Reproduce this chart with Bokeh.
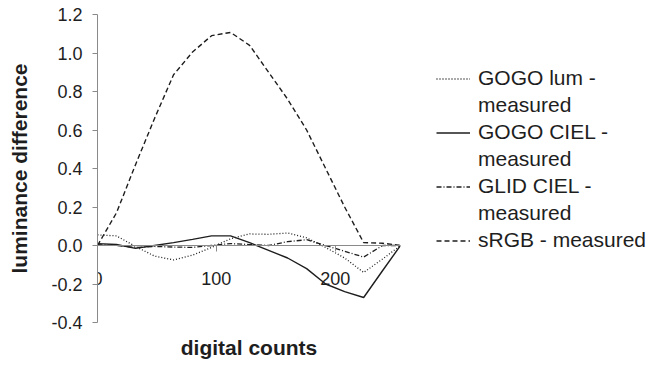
from bokeh.plotting import figure
from bokeh.models import (Range1d, LinearAxis, FixedTicker, Legend, LegendItem,
                          Title, NumeralTickFormatter)
from bokeh.embed import file_html
from bokeh.resources import INLINE

# ---- data ----
counts = [0, 16, 32, 48, 64, 80, 96, 112, 128, 144, 160, 176, 192, 208, 224, 240, 255]
gogo_lum = [0.055, 0.05, -0.005, -0.055, -0.075, -0.05, -0.01, 0.035, 0.06, 0.058,
            0.065, 0.04, -0.01, -0.065, -0.14, -0.07, 0.0]
gogo_ciel = [0.01, 0.005, -0.015, 0.0, 0.015, 0.032, 0.05, 0.05, 0.015, -0.025,
             -0.065, -0.12, -0.20, -0.24, -0.27, -0.13, 0.0]
glid_ciel = [0.005, 0.0, -0.01, -0.005, -0.008, -0.01, 0.0, 0.01, 0.005, 0.0,
             0.02, 0.03, 0.0, -0.03, -0.06, 0.0, 0.0]
srgb = [0.0, 0.17, 0.42, 0.66, 0.887, 1.005, 1.09, 1.107, 1.04, 0.90,
        0.76, 0.60, 0.40, 0.20, 0.015, 0.012, 0.0]

y_ticks = [-0.4, -0.2, 0.0, 0.2, 0.4, 0.6, 0.8, 1.0, 1.2]
x_ticks = [0, 100, 200]
legend_labels = ["GOGO lum -", "GOGO CIEL -", "GLID CIEL -", "sRGB - measured"]
second_line = "measured"

FONT = "Liberation Sans"
INK = "#1e1e1e"
AXIS = "#8a8a8a"

p = figure(frame_width=303, frame_height=308, output_backend="svg",
           toolbar_location=None,
           x_range=Range1d(0, 255), y_range=Range1d(-0.4, 1.2),
           x_axis_location=None, y_axis_location=None,
           min_border_left=97, min_border_right=250, min_border_top=14,
           min_border_bottom=45)
p.outline_line_color = None
p.xgrid.visible = False
p.ygrid.visible = False
p.background_fill_color = "white"

# y axis
yax = LinearAxis(ticker=FixedTicker(ticks=y_ticks),
                 formatter=NumeralTickFormatter(format="0.0"),
                 axis_label="luminance difference")
yax.axis_line_color = AXIS
yax.major_tick_line_color = AXIS
yax.major_tick_out = 5
yax.major_tick_in = 0
yax.minor_tick_line_color = None
yax.major_label_text_font = FONT
yax.major_label_text_font_size = "18px"
yax.major_label_text_color = INK
yax.major_label_standoff = 10
yax.axis_label_text_font = FONT
yax.axis_label_text_font_size = "21px"
yax.axis_label_text_font_style = "bold"
yax.axis_label_text_color = INK
yax.axis_label_standoff = 17
p.add_layout(yax, "left")

# x axis crossing at y = 0
xax = LinearAxis(ticker=FixedTicker(ticks=x_ticks), fixed_location=0)
xax.axis_line_color = AXIS
xax.major_tick_line_color = AXIS
xax.major_tick_out = 6
xax.major_tick_in = 0
xax.minor_tick_line_color = None
xax.major_label_text_font = FONT
xax.major_label_text_font_size = "18px"
xax.major_label_text_color = INK
xax.major_label_standoff = 20
p.add_layout(xax, "below")

p.add_layout(Title(text="digital counts", align="center", text_font=FONT,
                   text_font_size="21px", text_font_style="bold",
                   text_color=INK, offset=0, standoff=23), "below")

r_lum = p.line(counts, gogo_lum, line_color=INK, line_width=1.3, line_dash="1 2")
r_ciel = p.line(counts, gogo_ciel, line_color=INK, line_width=1.4)
r_glid = p.line(counts, glid_ciel, line_color=INK, line_width=1.3, line_dash="5 2 1 2")
r_srgb = p.line(counts, srgb, line_color=INK, line_width=1.4, line_dash="5 3")
r_blank = p.line([], [], line_alpha=0)

items = [
    LegendItem(label=legend_labels[0], renderers=[r_lum]),
    LegendItem(label=second_line, renderers=[r_blank]),
    LegendItem(label=legend_labels[1], renderers=[r_ciel]),
    LegendItem(label=second_line, renderers=[r_blank]),
    LegendItem(label=legend_labels[2], renderers=[r_glid]),
    LegendItem(label=second_line, renderers=[r_blank]),
    LegendItem(label=legend_labels[3], renderers=[r_srgb]),
]
legend = Legend(items=items, location=(36, 70), border_line_alpha=0,
                background_fill_alpha=0, glyph_width=34, glyph_height=21,
                label_height=21, label_standoff=8, spacing=3, padding=0, margin=0,
                label_text_font=FONT, label_text_font_size="21px",
                label_text_color=INK)
p.add_layout(legend, "right")

open("out.html", "w").write(file_html(p, INLINE))
